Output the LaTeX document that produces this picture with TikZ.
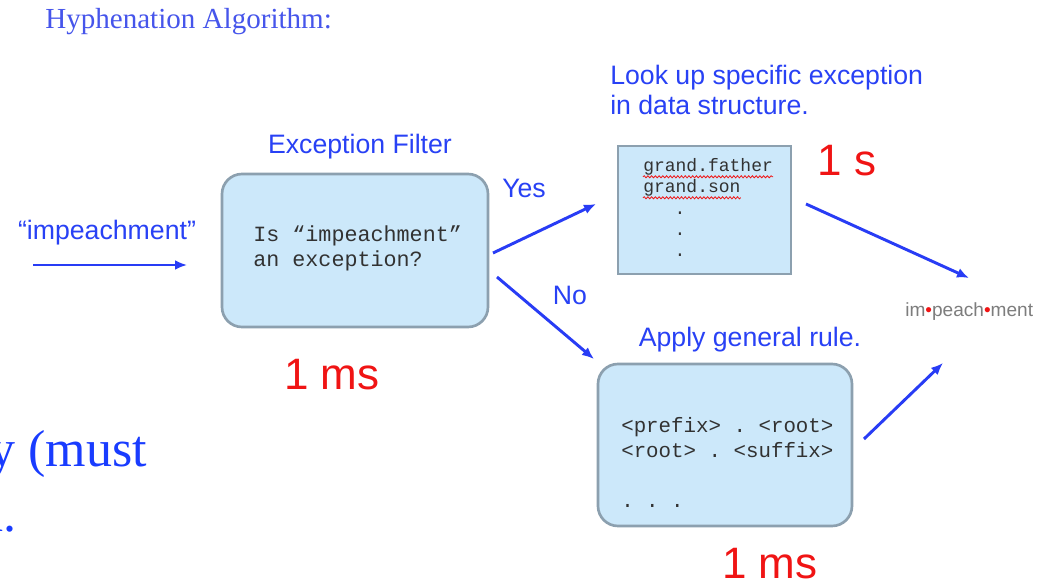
\documentclass[tikz,border=0pt]{standalone}
\usepackage{fontspec}
\setmainfont{Liberation Serif}
\setsansfont{Liberation Sans}
\setmonofont{Liberation Mono}
\usetikzlibrary{arrows.meta,decorations.pathmorphing}
\definecolor{lblue}{RGB}{40,65,245}
\definecolor{ablue}{RGB}{40,60,245}
\definecolor{sblue}{RGB}{25,60,255}
\definecolor{tblue}{RGB}{70,85,235}
\definecolor{rred}{RGB}{240,20,20}
\definecolor{boxfill}{RGB}{204,232,250}
\definecolor{boxline}{RGB}{140,160,175}
\definecolor{monotxt}{RGB}{50,50,50}
\definecolor{outgray}{RGB}{125,125,125}
\tikzset{
  lbl/.style={font=\sffamily\fontsize{20}{24}\selectfont, text=lblue, inner sep=0pt},
  redlbl/.style={font=\sffamily\fontsize{33}{38}\selectfont, text=rred, inner sep=0pt},
  monofilter/.style={font=\ttfamily\fontsize{16.3}{19}\selectfont, text=monotxt, inner sep=0pt},
  monoexc/.style={font=\ttfamily\fontsize{13.5}{16}\selectfont, text=monotxt, inner sep=0pt},
  monogen/.style={font=\ttfamily\fontsize{15.6}{19}\selectfont, text=monotxt, inner sep=0pt},
  serifbig/.style={font=\rmfamily\fontsize{39}{45}\selectfont, text=sblue, inner sep=0pt},
  rbox/.style={draw=boxline, fill=boxfill, line width=2pt, rounded corners=15pt},
  sbox/.style={draw=boxline, fill=boxfill, line width=2pt},
  arr/.style={draw=ablue, line width=2.2pt, -{Latex[length=9pt,width=7.5pt]}},
  wavy/.style={draw=rred, line width=0.6pt, decorate, decoration={snake, amplitude=0.8pt, segment length=2.8pt}}
}
\begin{document}
\begin{tikzpicture}[x=0.75pt,y=-0.75pt]
\path[use as bounding box, clip] (0,0) rectangle (1054,584);
\fill[white] (0,0) rectangle (1054,584);

% title
\node[font=\rmfamily\fontsize{21.8}{26}\selectfont, text=tblue, inner sep=0pt, anchor=base west] (title) at (45,29) {Hyphenation Algorithm:};

% input
\node[lbl, anchor=base] (inlbl) at (107,240) {“impeachment”};
\coordinate (inS) at (33,265);
\coordinate (inE) at (187,265);
\draw[arr] (inS) -- (inE);

% exception filter
\node[lbl, anchor=base] (filterlbl) at (360,154) {Exception Filter};
\node[rbox, minimum width=199.5pt, minimum height=114.75pt] (filter) at (355,250.5) {};
\node[monofilter, anchor=base west] (f1) at (253,242) {Is “impeachment”};
\node[monofilter, anchor=base west] (f2) at (253,267) {an exception?};
\node[redlbl, anchor=base] (ms1) at (332,390) {1 ms};

% yes / no
\node[lbl, anchor=base] (yes) at (524,198) {Yes};
\node[lbl, anchor=base] (no) at (570,305) {No};

% exception lookup
\node[lbl, anchor=base west] (look1) at (610,85) {Look up specific exception};
\node[lbl, anchor=base west] (look2) at (610,115) {in data structure.};
\node[sbox, minimum width=129.75pt, minimum height=96pt] (exc) at (704.5,210) {};
\node[monoexc, anchor=base west] (gf) at (643,172) {grand.father};
\node[monoexc, anchor=base west] (gs) at (643,193) {grand.son};
\draw[wavy] ([yshift=-3.6pt]gf.base west) -- ([yshift=-3.6pt]gf.base east);
\draw[wavy] ([yshift=-3.6pt]gs.base west) -- ([yshift=-3.6pt]gs.base east);
\node[monoexc, anchor=base] (d1) at (680,215) {.};
\node[monoexc, anchor=base] (d2) at (680,236) {.};
\node[monoexc, anchor=base] (d3) at (680,257) {.};
\node[redlbl, anchor=base] (s1) at (847,176) {1 s};

% general rule
\node[lbl, anchor=base] (genlbl) at (750,347) {Apply general rule.};
\node[rbox, minimum width=190.5pt, minimum height=121.5pt] (gen) at (725,445) {};
\node[monogen, anchor=base west] (g1) at (621,433) {<prefix> . <root>};
\node[monogen, anchor=base west] (g2) at (621,458) {<root> . <suffix>};
\node[monogen, anchor=base west] (g3) at (621,508) {.\ .\ .};
\node[redlbl, anchor=base] (ms2) at (770,579) {1 ms};

% output
\node[font=\sffamily\fontsize{14.3}{17}\selectfont, text=outgray, inner sep=0pt, anchor=base west] (out) at (905,317) {im\textcolor{rred}{•}peach\textcolor{rred}{•}ment};

% connectors
\coordinate (yesS) at (493,253);
\coordinate (yesE) at (596,204);
\coordinate (noS) at (497,277);
\coordinate (noE) at (594,359);
\coordinate (excS) at (806,204);
\coordinate (excE) at (969,278);
\coordinate (genS) at (864,439);
\coordinate (genE) at (943,363);
\draw[arr] (yesS) -- (yesE);
\draw[arr] (noS) -- (noE);
\draw[arr] (excS) -- (excE);
\draw[arr] (genS) -- (genE);

% clipped slide text
\node[serifbig, anchor=base west] (must) at (-11,467) {y (must};
\node[serifbig, anchor=base east] (dotline) at (17,532) {n.};
\end{tikzpicture}
\end{document}
